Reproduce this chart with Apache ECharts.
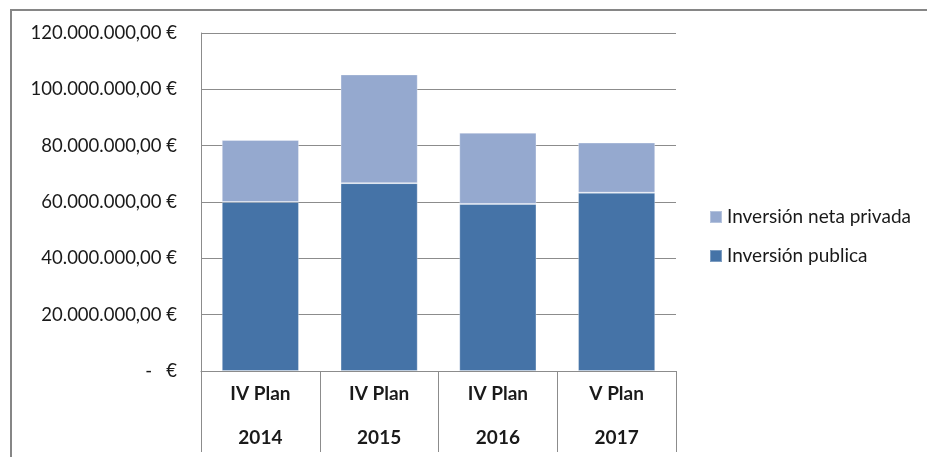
<!DOCTYPE html>
<html>
<head>
<meta charset="utf-8">
<script src="https://cdn.jsdelivr.net/npm/echarts@6/dist/echarts.min.js"></script>
<style>
  html, body { margin: 0; padding: 0; background: #ffffff; }
  #chart { width: 927px; height: 457px; }
</style>
</head>
<body>
<div id="chart"></div>
<script>
// Plan phases and years for each column
const plans = ['IV Plan', 'IV Plan', 'IV Plan', 'V Plan'];
const years = ['2014', '2015', '2016', '2017'];

// Investment amounts in euros
const inversionPublica = [60000000, 66700000, 59300000, 63300000];
const inversionPrivada = [22000000, 38600000, 25300000, 17800000];

// Value axis ticks
const yMin = 0;
const yMax = 120000000;
const yStep = 20000000;

const FONT = 'Lato, "Open Sans", sans-serif';
const GRID_COLOR = '#8c8c8c';
const TEXT_COLOR = '#1a1a1a';

function euro(v) {
  if (v === 0) return '-   €';
  const whole = Math.round(v).toString().replace(/\B(?=(\d{3})+(?!\d))/g, '.');
  return whole + ',00 €';
}

const categories = years.map((y, i) => i);

const chart = echarts.init(document.getElementById('chart'), null, { renderer: 'canvas' });

chart.setOption({
  animation: false,
  backgroundColor: '#ffffff',
  graphic: [{
    type: 'rect',
    shape: { x: 11, y: 10, width: 940, height: 470 },
    style: { fill: 'none', stroke: '#868686', lineWidth: 2 },
    silent: true,
    z: -1
  }],
  grid: { left: 201, right: 251, top: 33, bottom: 86, containLabel: false },
  legend: {
    orient: 'vertical',
    left: 709,
    top: 207,
    padding: 0,
    itemWidth: 12,
    itemHeight: 12,
    itemGap: 19,
    icon: 'rect',
    textStyle: { fontFamily: FONT, fontSize: 19, lineHeight: 20, color: TEXT_COLOR },
    data: ['Inversión neta privada', 'Inversión publica']
  },
  xAxis: {
    type: 'category',
    data: categories,
    axisLine: { show: true, lineStyle: { color: GRID_COLOR, width: 1 } },
    axisTick: { show: true, length: 81, lineStyle: { color: GRID_COLOR, width: 1 } },
    axisLabel: {
      margin: 1,
      formatter: function (v) {
        const i = Number(v);
        return '{a|' + plans[i] + '}\n{a|' + years[i] + '}';
      },
      rich: {
        a: { fontFamily: FONT, fontSize: 19, fontWeight: 'bold', color: TEXT_COLOR, lineHeight: 44 }
      }
    }
  },
  yAxis: {
    type: 'value',
    min: yMin,
    max: yMax,
    interval: yStep,
    axisLine: { show: true, lineStyle: { color: GRID_COLOR, width: 1 } },
    axisTick: { show: false },
    splitLine: { show: true, lineStyle: { color: GRID_COLOR, width: 1 } },
    axisLabel: {
      margin: 24,
      fontFamily: FONT,
      fontSize: 18.5,
      color: TEXT_COLOR,
      formatter: euro
    }
  },
  series: [
    {
      name: 'Inversión publica',
      type: 'bar',
      stack: 'total',
      data: inversionPublica,
      barCategoryGap: '35%',
      itemStyle: { color: '#4573a7', borderColor: 'rgba(255,255,255,0.3)', borderWidth: 1 }
    },
    {
      name: 'Inversión neta privada',
      type: 'bar',
      stack: 'total',
      data: inversionPrivada,
      barCategoryGap: '35%',
      itemStyle: { color: '#95a9cf', borderColor: 'rgba(255,255,255,0.3)', borderWidth: 1 }
    }
  ]
});
</script>
</body>
</html>
